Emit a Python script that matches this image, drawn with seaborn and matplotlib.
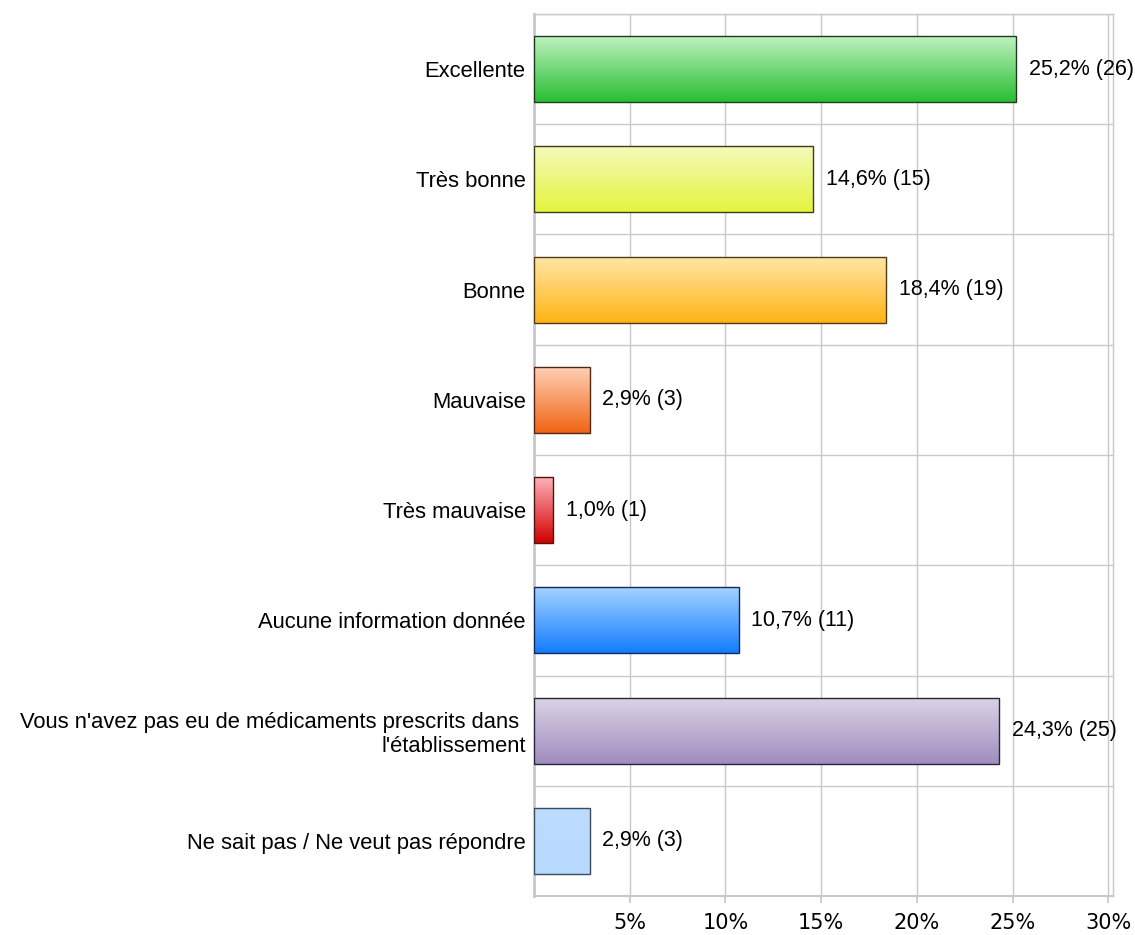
import numpy as np
import pandas as pd
import matplotlib
matplotlib.use("Agg")
import matplotlib.pyplot as plt
import seaborn as sns
from matplotlib.colors import LinearSegmentedColormap

categories = [
    "Excellente",
    "Très bonne",
    "Bonne",
    "Mauvaise",
    "Très mauvaise",
    "Aucune information donnée",
    "Vous n'avez pas eu de médicaments prescrits dans \nl'établissement",
    "Ne sait pas / Ne veut pas répondre",
]
percents = [25.2, 14.6, 18.4, 2.9, 1.0, 10.7, 24.3, 2.9]
counts = [26, 15, 19, 3, 1, 11, 25, 3]
tick_values = [5, 10, 15, 20, 25, 30]

top_colors = ["#c2f2c2", "#f5fabc", "#ffe6a8", "#ffd2b8", "#ffb4bc", "#a6d4ff", "#dcd4e6", "#bcdcff"]
bottom_colors = ["#28be32", "#e4f43c", "#ffb414", "#f06414", "#d20000", "#147cff", "#a08cbe", "#b8daff"]
edge_colors = ["#1e3c1e", "#3c3c1e", "#503c14", "#502814", "#501414", "#14285a", "#28283c", "#3c4a5a"]

sns.set_theme(style="white")
plt.rcParams["font.family"] = ["Liberation Sans", "DejaVu Sans"]

df = pd.DataFrame({"cat": categories, "pct": percents})

fig = plt.figure(figsize=(11.35, 9.35), dpi=100)
ax = fig.add_axes([534 / 1135, 1 - 896 / 935, (1113 - 534) / 1135, (896 - 14) / 935])

sns.barplot(data=df, x="pct", y="cat", hue="cat", palette=bottom_colors,
            legend=False, width=0.6, ax=ax, orient="h", saturation=1, zorder=3)

ax.set_xlim(0, 30.25)
ax.set_ylim(len(categories) - 0.5, -0.5)

# gradients
for i, bar in enumerate(ax.patches):
    x0, y0 = bar.get_x(), bar.get_y()
    w, h = bar.get_width(), bar.get_height()
    cmap = LinearSegmentedColormap.from_list("g%d" % i, [top_colors[i], bottom_colors[i]])
    grad = np.linspace(0, 1, 256).reshape(-1, 1)
    im = ax.imshow(grad, cmap=cmap, aspect="auto", extent=(x0, x0 + w, y0 + h, y0),
                   origin="upper", zorder=3.5)
    im.set_clip_path(bar)
    bar.set_facecolor("none")
    bar.set_edgecolor(edge_colors[i])
    bar.set_linewidth(1.0)
    bar.set_zorder(4)
    ax.text(x0 + w + 0.65, y0 + h / 2, f"{percents[i]:.1f}".replace(".", ",") + f"% ({counts[i]})",
            va="center", ha="left", fontsize=15.5, color="#000000", zorder=5)

ax.set_xlim(0, 30.25)
ax.set_ylim(len(categories) - 0.5, -0.5)

# grid
grid_c = "#c8c8c8"
for t in tick_values:
    ax.axvline(t, color=grid_c, lw=1, zorder=1)
for b in np.arange(-0.5, len(categories), 1.0):
    ax.axhline(b, color=grid_c, lw=1, zorder=1)

ax.set_xticks(tick_values)
ax.set_xticklabels([f"{t}%" for t in tick_values], fontsize=15, family="DejaVu Sans", color="#000000")
ax.tick_params(axis="x", bottom=True, length=5, color=grid_c, pad=7)
ax.tick_params(axis="y", left=False, length=0, pad=6, labelsize=15.8, labelcolor="#000000")
ax.set_xlabel("")
ax.set_ylabel("")
for lab in ax.get_yticklabels():
    lab.set_horizontalalignment("right")
    lab.set_multialignment("right")

for s in ["left", "bottom", "right", "top"]:
    ax.spines[s].set_visible(True)
    ax.spines[s].set_color(grid_c)
ax.spines["left"].set_linewidth(2)
ax.spines["bottom"].set_linewidth(1.5)
ax.spines["top"].set_linewidth(1)
ax.spines["right"].set_linewidth(1)

fig.savefig("out.png", dpi=100)
